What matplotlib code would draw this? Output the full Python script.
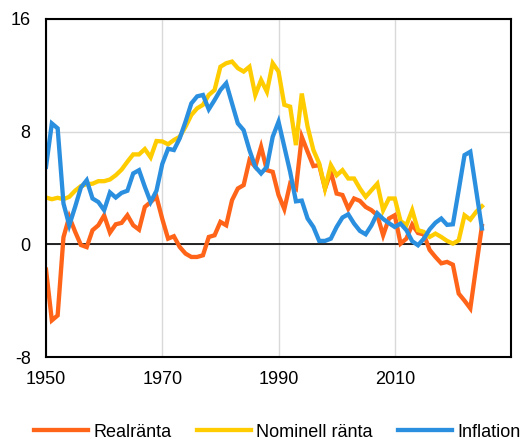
import matplotlib.pyplot as plt
import numpy as np

plt.rcParams['font.family'] = ['Liberation Sans', 'DejaVu Sans']
plt.rcParams['axes.unicode_minus'] = False

years = np.arange(1950, 2026)

real_rate = [-1.8, -5.4, -5.05, 0.5, 1.95, 0.9, -0.05, -0.2, 1.0, 1.35,
             2.05, 0.83, 1.42, 1.52, 2.06, 1.35, 1.04, 2.65, 3.0, 3.37,
             1.8, 0.4, 0.57, -0.19, -0.66, -0.9, -0.9, -0.78, 0.52, 0.64,
             1.59, 1.35, 3.13, 3.96, 4.2, 5.97, 5.5, 6.92, 5.26, 5.14,
             3.5, 2.5, 4.3, 3.96, 7.63, 6.57, 5.55, 5.62, 3.96, 5.14,
             3.6, 3.5, 2.53, 3.25, 3.08, 2.65, 2.42, 2.06, 0.64, 1.83,
             2.06, 0.05, 0.4, 1.4, 0.8, 0.7, -0.4, -0.9, -1.35, -1.25,
             -1.45, -3.5, -4.0, -4.55, -1.6, 1.3]

nominal_rate = [3.32, 3.2, 3.3, 3.2, 3.37, 3.8, 4.13, 4.27, 4.3, 4.48,
                4.48, 4.6, 4.9, 5.3, 5.86, 6.38, 6.38, 6.76, 6.17, 7.33,
                7.3, 7.1, 7.4, 7.63, 8.35, 9.18, 9.65, 9.9, 10.6, 10.95,
                12.6, 12.85, 12.97, 12.5, 12.26, 12.6, 10.6, 11.66, 10.83, 12.85,
                12.26, 9.9, 9.77, 7.04, 10.7, 8.35, 6.69, 5.74, 3.96, 5.62,
                4.9, 5.26, 4.67, 4.67, 3.96, 3.37, 3.84, 4.3, 2.42, 3.25,
                3.25, 1.65, 1.35, 2.42, 1.0, 0.88, 0.52, 0.76, 0.52, 0.24,
                0.05, 0.28, 2.06, 1.75, 2.3, 2.7]

inflation = [5.5, 8.58, 8.23, 2.9, 1.35, 2.65, 4.03, 4.55, 3.25, 3.0,
             2.42, 3.68, 3.32, 3.65, 3.8, 5.03, 5.26, 4.08, 3.0, 3.8,
             5.7, 6.78, 6.69, 7.52, 8.7, 10.0, 10.5, 10.6, 9.58, 10.24,
             10.95, 11.43, 10.0, 8.58, 8.1, 6.69, 5.5, 5.03, 5.5, 7.63,
             8.7, 6.92, 5.14, 3.05, 3.1, 1.83, 1.23, 0.24, 0.24, 0.4,
             1.23, 1.9, 2.13, 1.47, 0.95, 0.71, 1.35, 2.2, 1.8, 1.5,
             1.23, 1.47, 1.0, 0.22, -0.07, 0.4, 1.06, 1.53, 1.83, 1.38,
             1.42, 3.84, 6.33, 6.57, 3.84, 1.12]

labels = ['Realränta', 'Nominell ränta', 'Inflation']
colors = ['#FF6418', '#FFCC00', '#2B8FE0']

fig = plt.figure(figsize=(5.26, 4.42), dpi=100)
ax = fig.add_axes([0.0875, 0.1923, 0.884, 0.765])

for vals, lab, col in zip([real_rate, nominal_rate, inflation], labels, colors):
    ax.plot(years, vals, color=col, lw=3.1, label=lab, solid_joinstyle='miter')

ax.axhline(0, color='black', lw=1.2, zorder=1)
ax.set_xlim(1950, 2030)
ax.set_ylim(-8, 16)
ax.set_xticks([1950, 1970, 1990, 2010])
ax.set_yticks([-8, 0, 8, 16])
ax.grid(True, color='#D9D9D9', lw=1)
ax.set_axisbelow(True)
ax.tick_params(length=0, labelsize=13)
ax.tick_params(axis='x', pad=10)
ax.tick_params(axis='y', pad=11)
for s in ax.spines.values():
    s.set_linewidth(1.5)
    s.set_color('black')

fig.legend(loc='lower center', bbox_to_anchor=(0.527, -0.034), ncol=3, frameon=False,
           fontsize=13, handlelength=3.0, columnspacing=1.4, handletextpad=0.3)

fig.savefig('out.png', dpi=100)
